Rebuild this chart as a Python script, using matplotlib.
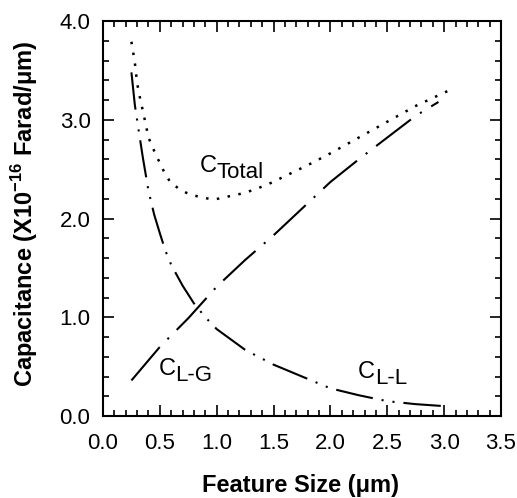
import matplotlib
matplotlib.use("Agg")
import matplotlib.pyplot as plt
from matplotlib.ticker import MultipleLocator

plt.rcParams['font.family'] = ['Liberation Sans', 'DejaVu Sans']
plt.rcParams['mathtext.fontset'] = 'custom'
plt.rcParams['mathtext.rm'] = 'Liberation Sans'
plt.rcParams['mathtext.bf'] = 'Liberation Sans:bold'

# values
x_lg = [0.25, 0.5, 0.75, 1.0, 1.25, 1.5, 1.75, 2.0, 2.25, 2.5, 2.75, 2.95]
c_lg = [0.36, 0.70, 0.99, 1.31, 1.58, 1.83, 2.10, 2.37, 2.60, 2.82, 3.04, 3.18]

x_ll = [0.25, 0.28, 0.31, 0.35, 0.4, 0.45, 0.5, 0.55, 0.6, 0.7, 0.8, 0.9, 1.0,
        1.25, 1.5, 1.75, 2.0, 2.25, 2.5, 2.75, 3.0]
c_ll = [3.48, 3.15, 2.92, 2.62, 2.28, 2.04, 1.85, 1.67, 1.53, 1.32, 1.14, 1.00, 0.88,
        0.67, 0.52, 0.40, 0.28, 0.21, 0.15, 0.12, 0.10]

x_tot = [0.25, 0.28, 0.30, 0.32, 0.36, 0.40, 0.44, 0.48, 0.53, 0.59, 0.68, 0.77,
         0.97, 1.25, 1.44, 1.62, 1.80, 2.0, 2.25, 2.5, 2.75, 3.03]
c_tot = [3.79, 3.58, 3.37, 3.25, 3.04, 2.82, 2.71, 2.61, 2.49, 2.37, 2.29, 2.24,
         2.19, 2.26, 2.34, 2.44, 2.54, 2.66, 2.82, 2.98, 3.14, 3.29]

labels = [('Total', 0.853, 2.47), ('L-G', 0.49, 0.415), ('L-L', 2.243, 0.385)]

fig = plt.figure(figsize=(5.17, 4.98), dpi=100)
ax = fig.add_axes([103 / 517, 82 / 498, 398 / 517, 395 / 498])

ax.plot(x_tot, c_tot, color='black', lw=1.8, linestyle=(0, (1, 3.4)))
ax.plot(x_lg, c_lg, color='black', lw=1.5, linestyle=(0, (21, 5.3, 1, 5.3)))
ax.plot(x_ll, c_ll, color='black', lw=1.5, linestyle=(0, (18, 4.3, 1, 4.3, 1, 4.3)))

for sub, lx, ly in labels:
    ax.text(lx, ly, 'C', fontsize=17, va='baseline')
    ax.annotate(sub, (lx, ly), xytext=(12, -4), textcoords='offset points',
                fontsize=16, va='baseline')

ax.set_xlim(0, 3.5)
ax.set_ylim(0, 4.0)
ax.xaxis.set_major_locator(MultipleLocator(0.5))
ax.xaxis.set_minor_locator(MultipleLocator(0.1))
ax.yaxis.set_major_locator(MultipleLocator(1.0))
ax.yaxis.set_minor_locator(MultipleLocator(0.2))
ax.xaxis.set_major_formatter(plt.FormatStrFormatter('%.1f'))
ax.yaxis.set_major_formatter(plt.FormatStrFormatter('%.1f'))
ax.tick_params(which='both', direction='in', top=True, right=True, width=1.2, labelsize=16)
ax.tick_params(which='major', length=8)
ax.tick_params(which='minor', length=4)
ax.tick_params(axis='x', pad=12)
ax.tick_params(axis='y', pad=9)
for s in ax.spines.values():
    s.set_linewidth(1.5)

fig.text(300 / 517, 1 - 485 / 498, 'Feature Size (μm)', fontsize=17, fontweight='bold',
         ha='center', va='center')
fig.text(25 / 517, 1 - 214 / 498, r'Capacitance (X10$^{\mathbf{-16}}$ Farad/μm)', fontsize=17,
         fontweight='bold', rotation=90, ha='center', va='center')

fig.savefig('out.png', dpi=100)
